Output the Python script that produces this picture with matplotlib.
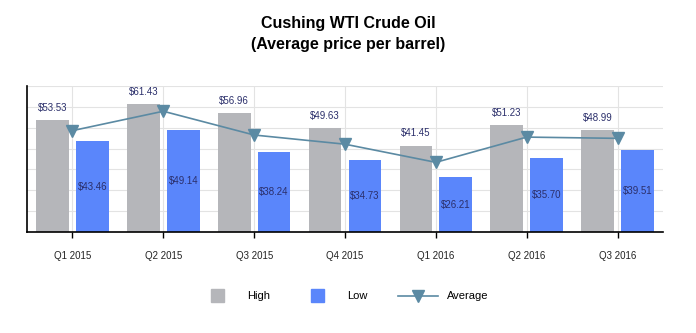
import matplotlib
matplotlib.use("Agg")
import matplotlib.pyplot as plt
import numpy as np
from matplotlib import font_manager

quarters = ["Q1 2015", "Q2 2015", "Q3 2015", "Q4 2015", "Q1 2016", "Q2 2016", "Q3 2016"]
high = [53.53, 61.43, 56.96, 49.63, 41.45, 51.23, 48.99]
low = [43.46, 49.14, 38.24, 34.73, 26.21, 35.70, 39.51]
average = [48.6, 57.9, 46.5, 42.1, 33.4, 45.5, 44.9]

names = {f.name for f in font_manager.fontManager.ttflist}
title_font = "Liberation Sans Narrow" if "Liberation Sans Narrow" in names else "Liberation Sans"
plt.rcParams["font.family"] = ["Liberation Sans", "DejaVu Sans"]

gray = "#b5b6ba"
blue = "#5a86fb"
line_c = "#5b8aa3"
label_c = "#2b2f6b"

fig = plt.figure(figsize=(6.96, 3.33), dpi=100)
ax = fig.add_axes([27 / 696, 1 - 232 / 333, (663 - 27) / 696, (232 - 86) / 333])

x = np.arange(len(quarters))
w = 0.36
off = 0.22
ax.bar(x - off, high, w, color=gray, zorder=2)
ax.bar(x + off, low, w, color=blue, zorder=2)
ax.plot(x, average, color=line_c, lw=1.2, marker="v", markersize=9, zorder=3)

for i in range(len(x)):
    ax.text(x[i] - off, high[i] + 3.5, f"${high[i]:.2f}", ha="center", va="bottom",
            fontsize=7, color=label_c, zorder=4)
    ax.text(x[i] + off, low[i] / 2, f"${low[i]:.2f}", ha="center", va="center",
            fontsize=7, color=label_c, zorder=4)

ax.set_xlim(-0.5, 6.5)
ax.set_ylim(0, 70)
ax.set_xticks(x)
ax.set_xticklabels(quarters, fontsize=7, color="#222222")
ax.set_yticks(np.arange(0, 71, 10))
ax.set_yticklabels([])
ax.tick_params(axis="y", length=0)
ax.tick_params(axis="x", length=4, width=1, pad=10)
ax.grid(True, color="#e3e3e3", lw=0.8, zorder=0)
ax.set_axisbelow(True)
for s in ["top", "right"]:
    ax.spines[s].set_visible(False)
ax.spines["left"].set_linewidth(1.2)
ax.spines["bottom"].set_linewidth(1.2)

fig.text(0.5, 1 - 34 / 333, "Cushing WTI Crude Oil\n(Average price per barrel)",
         ha="center", va="center", fontsize=11.5, fontweight="bold",
         family=title_font, linespacing=1.55)

# legend drawn by hand to get the wide spacing
ly = 1 - 296 / 333
fig.patches.append(plt.Rectangle((211 / 696, ly - 6 / 333), 13 / 696, 13 / 333,
                                 transform=fig.transFigure, color=gray))
fig.text(247 / 696, ly, "High", fontsize=8, va="center")
fig.patches.append(plt.Rectangle((311 / 696, ly - 6 / 333), 13 / 696, 13 / 333,
                                 transform=fig.transFigure, color=blue))
fig.text(347 / 696, ly, "Low", fontsize=8, va="center")
fig.lines.append(plt.Line2D([398 / 696, 438 / 696], [ly, ly], transform=fig.transFigure,
                            color=line_c, lw=1.2))
fig.lines.append(plt.Line2D([418 / 696], [ly], transform=fig.transFigure,
                            color=line_c, marker="v", markersize=9))
fig.text(447 / 696, ly, "Average", fontsize=8, va="center")

fig.savefig("out.png", dpi=100)
